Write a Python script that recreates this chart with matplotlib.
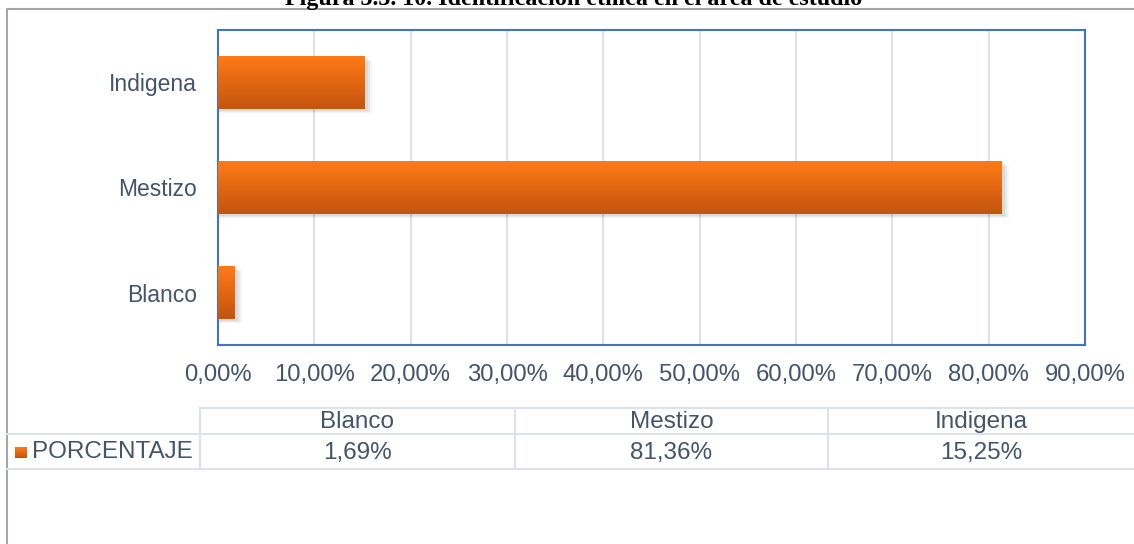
import numpy as np
import matplotlib
matplotlib.use("Agg")
import matplotlib.pyplot as plt
from matplotlib.ticker import FuncFormatter

# data
categories = ["Blanco", "Mestizo", "Indigena"]
porcentaje = [1.69, 81.36, 15.25]
x_ticks = [0, 10, 20, 30, 40, 50, 60, 70, 80, 90]
series_name = "PORCENTAJE"
title = "Figura 3.3. 10. Identificación étnica en el área de estudio"

txt_col = "#44546A"
fs = 16.5
plt.rcParams['font.family'] = ['Liberation Sans', 'DejaVu Sans']

W, H = 1134, 544
fig = plt.figure(figsize=(W / 100, H / 100), dpi=100)

# background overlay in pixel coords
bg = fig.add_axes([0, 0, 1, 1])
bg.set_xlim(0, W)
bg.set_ylim(H, 0)
bg.axis("off")
# outer frame
bg.plot([7, 7, W], [H, 9, 9], color="#A6A6A6", lw=1.5)
bg.text(574, 5, title, ha="center", va="baseline", fontsize=17.3,
        fontweight="bold", family=["Liberation Serif", "DejaVu Serif"])

# main chart
L, R, T, B = 218, 1085, 30, 345
ax = fig.add_axes([L / W, 1 - B / H, (R - L) / W, (B - T) / H])
ax.set_xlim(0, 90)
ax.set_ylim(-0.5, len(categories) - 0.5)
ax.set_xticks(x_ticks)
ax.xaxis.set_major_formatter(FuncFormatter(lambda v, p: f"{v:.2f}%".replace(".", ",")))
ax.set_yticks(range(len(categories)))
ax.set_yticklabels(categories)
ax.tick_params(length=0, labelsize=fs, colors=txt_col)
ax.tick_params(axis="y", pad=15)
ax.tick_params(axis="x", pad=14, labelsize=17.2)
ax.grid(axis="x", color="#DDE2EA", lw=1.5)
ax.set_axisbelow(True)
for s in ax.spines.values():
    s.set_color("#4472C4")
    s.set_linewidth(1.5)

grad = np.linspace(0, 1, 64).reshape(-1, 1)
cmap = matplotlib.colors.LinearSegmentedColormap.from_list("o", ["#FF7A16", "#C4540E"])
bh = 0.5
for i, v in enumerate(porcentaje):
    # soft shadow
    for k, a in enumerate([0.06, 0.05, 0.04]):
        ax.barh(i - 0.02 - 0.012 * k, v + 0.25 + 0.2 * k, height=bh, left=0.1,
                color="#000000", alpha=a, zorder=2, lw=0)
    ax.imshow(grad, aspect="auto", cmap=cmap, extent=[0, v, i - bh / 2, i + bh / 2],
              origin="upper", zorder=3)
ax.set_xlim(0, 90)
ax.set_ylim(-0.5, len(categories) - 0.5)

# data table
fs_t = 17.5
line_col = "#DDE2EA"
col_x = [200, 515, 828, W]
y_top, y_mid, y_bot = 408, 434, 469
bg.plot([200, W], [y_top, y_top], color=line_col, lw=1.5)
bg.plot([7, W], [y_mid, y_mid], color=line_col, lw=1.5)
bg.plot([7, W], [y_bot, y_bot], color=line_col, lw=1.5)
for x in col_x[:-1]:
    bg.plot([x, x], [y_top, y_bot], color=line_col, lw=1.5)
for j, (c, v) in enumerate(zip(categories, porcentaje)):
    cx = (col_x[j] + col_x[j + 1]) / 2
    bg.text(cx, (y_top + y_mid) / 2 + 1, c, ha="center", va="center", fontsize=fs_t, color=txt_col)
    bg.text(cx, (y_mid + y_bot) / 2 + 1, f"{v:.2f}%".replace(".", ","), ha="center", va="center",
            fontsize=fs_t, color=txt_col)
bg.imshow(grad, aspect="auto", cmap=cmap, extent=[15, 27, 458, 447], zorder=3)
bg.text(32, (y_mid + y_bot) / 2 + 1, series_name, ha="left", va="center", fontsize=fs_t, color=txt_col)
bg.set_xlim(0, W)
bg.set_ylim(H, 0)

fig.savefig("out.png", dpi=100)
